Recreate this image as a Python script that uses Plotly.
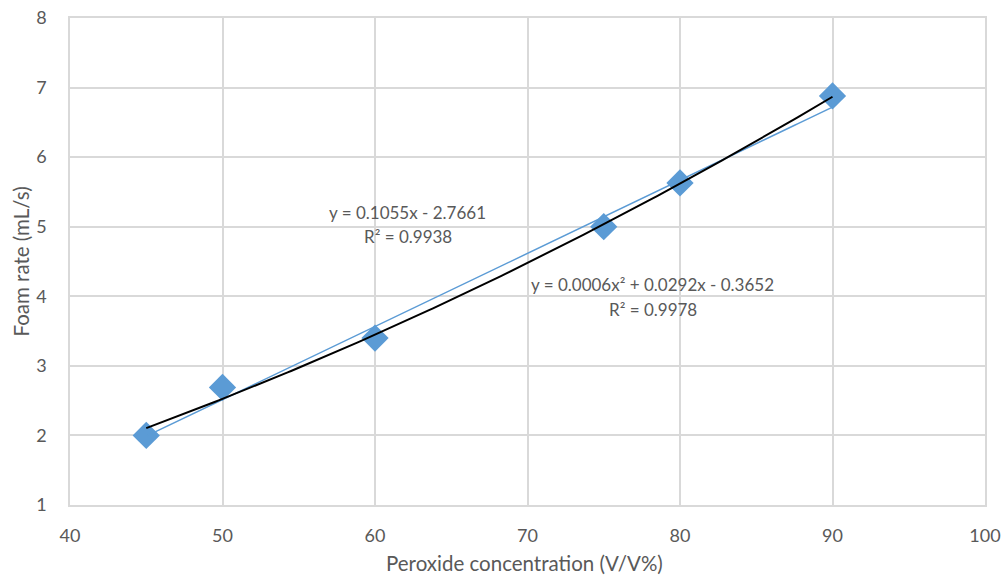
import numpy as np
import plotly.graph_objects as go

concentration = [45, 50, 60, 75, 80, 90]
foam_rate = [2.0, 2.69, 3.4, 5.0, 5.63, 6.88]
x_ticks = [40, 50, 60, 70, 80, 90, 100]
y_ticks = [1, 2, 3, 4, 5, 6, 7, 8]
x_title = "Peroxide concentration (V/V%)"
y_title = "Foam rate (mL/s)"
lin_label = ["y = 0.1055x - 2.7661", "R² = 0.9938"]
quad_label = ["y = 0.0006x² + 0.0292x - 0.3652", "R² = 0.9978"]

FONT = "Lato, sans-serif"
TXT = "#595959"

xs = np.linspace(min(concentration), max(concentration), 200)
lin = np.polyfit(concentration, foam_rate, 1)
quad = np.polyfit(concentration, foam_rate, 2)

fig = go.Figure()
fig.add_trace(go.Scatter(x=concentration, y=foam_rate, mode="markers",
                         marker=dict(symbol="diamond", size=21, color="#5b9bd5"),
                         showlegend=False))
fig.add_trace(go.Scatter(x=xs, y=np.polyval(lin, xs), mode="lines",
                         line=dict(color="#5b9bd5", width=1.5), showlegend=False))
fig.add_trace(go.Scatter(x=xs, y=np.polyval(quad, xs), mode="lines",
                         line=dict(color="black", width=2), showlegend=False))

ann_font = dict(family=FONT, size=17, color=TXT)
fig.add_annotation(x=0.369, y=0.600, xref="paper", yref="paper", text=lin_label[0],
                   showarrow=False, font=ann_font)
fig.add_annotation(x=0.369, y=0.552, xref="paper", yref="paper", text=lin_label[1],
                   showarrow=False, font=ann_font)
fig.add_annotation(x=0.637, y=0.452, xref="paper", yref="paper", text=quad_label[0],
                   showarrow=False, font=ann_font)
fig.add_annotation(x=0.637, y=0.402, xref="paper", yref="paper", text=quad_label[1],
                   showarrow=False, font=ann_font)

title_font = dict(family=FONT, size=20.5, color=TXT)
fig.add_annotation(x=0.497, y=-0.119, xref="paper", yref="paper", text=x_title,
                   showarrow=False, font=title_font, yanchor="middle", xanchor="center")
fig.add_annotation(x=-0.0546, y=0.50, xref="paper", yref="paper", text=y_title,
                   showarrow=False, font=title_font, textangle=-90,
                   yanchor="middle", xanchor="center")

fig.update_layout(
    width=1001, height=576,
    margin=dict(l=70, r=16, t=18, b=71),
    paper_bgcolor="white", plot_bgcolor="white",
    font=dict(family=FONT, color=TXT, size=16),
    xaxis=dict(range=[40, 100], tickvals=x_ticks, showgrid=True, gridcolor="#d9d9d9",
               gridwidth=1.5, zeroline=False, showline=True, linecolor="#d9d9d9",
               linewidth=1.5, mirror=True, ticks="outside", ticklen=14, tickcolor="white",
               automargin=False, ticklabeloverflow="allow",
               tickfont=dict(size=18, color=TXT)),
    yaxis=dict(range=[1, 8], tickvals=y_ticks, showgrid=True, gridcolor="#d9d9d9",
               gridwidth=1.5, zeroline=False, showline=True, linecolor="#d9d9d9",
               linewidth=1.5, mirror=True, ticks="outside", ticklen=18, tickcolor="white",
               automargin=False, ticklabeloverflow="allow",
               tickfont=dict(size=18, color=TXT)),
)
fig.write_html("out.html", config={"displayModeBar": False},
               post_script="document.body.style.margin='0';document.body.style.overflow='hidden';")
